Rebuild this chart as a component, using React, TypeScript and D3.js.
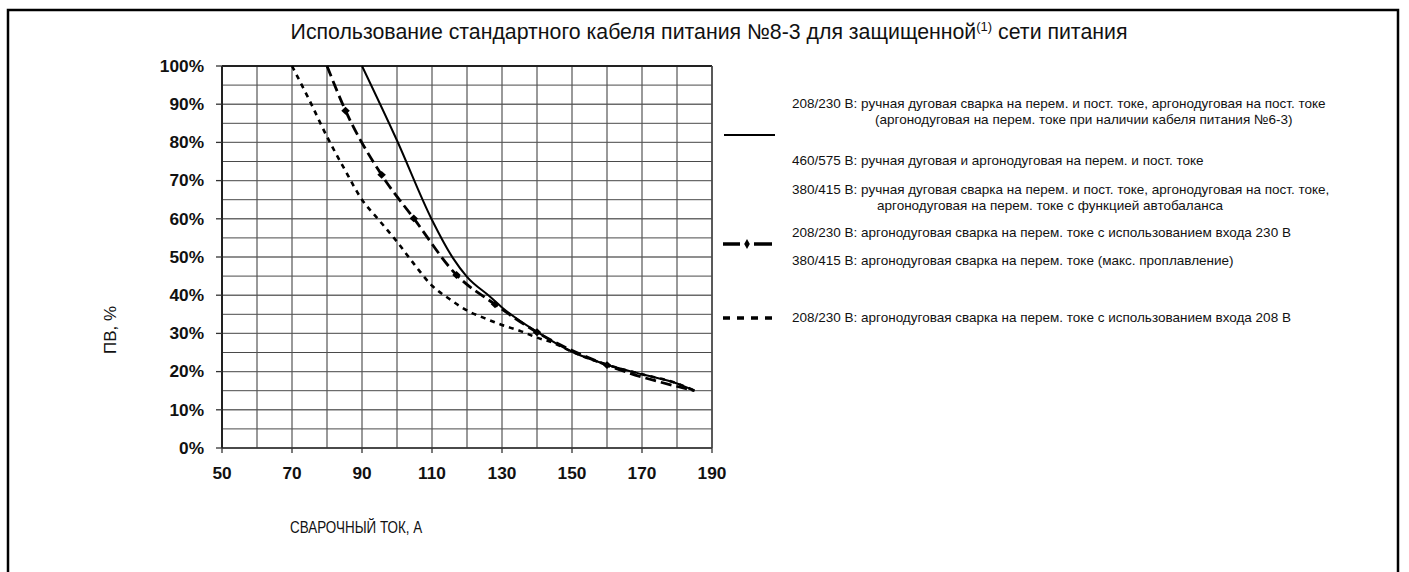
import React from "react";
import * as d3 from "d3";

const TITLE_MAIN = "Использование стандартного кабеля питания №8-3 для защищенной";
const TITLE_SUP = "(1)";
const TITLE_END = " сети питания";
const X_LABEL = "СВАРОЧНЫЙ ТОК, А";
const Y_LABEL = "ПВ, %";

const xTicks = [50, 70, 90, 110, 130, 150, 170, 190];
const yTicks = [0, 10, 20, 30, 40, 50, 60, 70, 80, 90, 100];

// Solid: 208/230 V stick etc.
const solidSeries: [number, number][] = [
  [90, 100], [100, 80.5], [110, 59.7], [116, 49.7], [120, 44.8], [126.6, 39.6],
  [130, 36.8], [140, 30.4], [150, 25.2], [160, 21.8], [170, 19.3], [180, 16.9], [185, 15],
];

// Dash-dot with diamond markers
const dashDotSeries: [number, number][] = [
  [80, 100], [85.3, 88.3], [95.6, 71.5], [104.8, 60.1], [117, 45.3],
  [128, 37.6], [140, 30.3], [160, 21.7], [185, 15],
];

// Dotted: 208/230 V TIG AC 208 input
const dottedSeries: [number, number][] = [
  [70, 100], [75, 91], [80, 81.5], [85, 73], [90, 65], [95, 59.5], [100, 54],
  [105, 48], [110, 42.5], [115, 39], [120, 36], [125, 34], [130, 32.2],
  [135, 30.7], [140, 28.9], [145, 27.4], [150, 25.2], [160, 21.8], [170, 19.3],
  [180, 16.9], [185, 15],
];

const legendLines = [
  { text: "208/230 В: ручная дуговая сварка на перем. и пост. токе, аргонодуговая на пост. токе", x: 792, y: 103 },
  { text: "(аргонодуговая на перем. токе при наличии кабеля питания №6-3)", x: 875, y: 119 },
  { text: "460/575 В: ручная дуговая и аргонодуговая на перем. и пост. токе", x: 792, y: 160 },
  { text: "380/415 В: ручная дуговая сварка на перем. и пост. токе, аргонодуговая на пост. токе,", x: 792, y: 189 },
  { text: "аргонодуговая на перем. токе с функцией автобаланса", x: 877, y: 205 },
  { text: "208/230 В: аргонодуговая сварка на перем. токе с использованием входа 230 В", x: 792, y: 232 },
  { text: "380/415 В: аргонодуговая сварка на перем. токе (макс. проплавление)", x: 792, y: 260 },
  { text: "208/230 В: аргонодуговая сварка на перем. токе с использованием входа 208 В", x: 792, y: 317 },
];

export default function App() {
  const x = d3.scaleLinear().domain([50, 190]).range([222, 712]);
  const y = d3.scaleLinear().domain([0, 100]).range([448, 66]);
  const line = d3
    .line<[number, number]>()
    .x((d) => x(d[0]))
    .y((d) => y(d[1]))
    .curve(d3.curveMonotoneX);

  const vGrid = d3.range(50, 191, 10);
  const hGrid = d3.range(0, 101, 5);
  const diamond = d3.symbol().type(d3.symbolDiamond).size(28)();
  const font = "'Liberation Sans', Arial, sans-serif";
  const narrow = "'Liberation Sans Narrow', 'Arial Narrow', 'Liberation Sans', sans-serif";

  return (
    <svg
      width={1409}
      height={572}
      style={{ position: "absolute", left: 0, top: 0, background: "#fff" }}
    >
      {/* frame */}
      <path d="M8,580 L8,10 L1398,10 L1398,580" fill="none" stroke="#000" strokeWidth={2.5} />

      {/* title */}
      <text x={709} y={39} textAnchor="middle" fontFamily={font} fontSize={21.3} fill="#111">
        {TITLE_MAIN}
        <tspan fontSize={13} dy={-8}>{TITLE_SUP}</tspan>
        <tspan dy={8}>{TITLE_END}</tspan>
      </text>

      {/* grid */}
      {hGrid.map((v) => (
        <line key={"h" + v} x1={x(50)} x2={x(190)} y1={y(v)} y2={y(v)}
          stroke={v % 10 === 0 ? "#6a6a6a" : "#4a4a4a"} strokeWidth={v % 10 === 0 ? 1.4 : 1} />
      ))}
      {vGrid.map((v) => (
        <line key={"v" + v} x1={x(v)} x2={x(v)} y1={y(0)} y2={y(100)} stroke="#555" strokeWidth={1.2} />
      ))}
      {/* axes borders */}
      <line x1={x(50)} x2={x(190)} y1={y(100)} y2={y(100)} stroke="#222" strokeWidth={2} />
      <line x1={x(50)} x2={x(190)} y1={y(0)} y2={y(0)} stroke="#333" strokeWidth={1.5} />
      <line x1={x(50)} x2={x(50)} y1={y(0)} y2={y(100)} stroke="#222" strokeWidth={2} />
      <line x1={x(190)} x2={x(190)} y1={y(0)} y2={y(100)} stroke="#444" strokeWidth={1.5} />

      {/* ticks */}
      {yTicks.map((v) => (
        <g key={"yt" + v}>
          <line x1={x(50) - 6} x2={x(50)} y1={y(v)} y2={y(v)} stroke="#333" strokeWidth={1.3} />
          <text transform={`translate(204,${y(v) + 5.7}) scale(1.08,1)`} textAnchor="end" fontFamily={font} fontWeight="bold" fontSize={16} fill="#111">
            {v + "%"}
          </text>
        </g>
      ))}
      {xTicks.map((v) => (
        <g key={"xt" + v}>
          <line x1={x(v)} x2={x(v)} y1={y(0)} y2={y(0) + 5} stroke="#333" strokeWidth={1.3} />
          <text transform={`translate(${x(v)},479) scale(1.08,1)`} textAnchor="middle" fontFamily={font} fontWeight="bold" fontSize={16} fill="#111">
            {v}
          </text>
        </g>
      ))}

      {/* axis labels */}
      <text transform="translate(290,533) scale(0.84,1)" fontFamily={font} fontSize={16} fill="#111">{X_LABEL}</text>
      <text transform="translate(116,330) rotate(-90)" textAnchor="middle" fontFamily={font} fontSize={17} fill="#111">
        {Y_LABEL}
      </text>

      {/* series */}
      <path d={line(dottedSeries) || ""} fill="none" stroke="#000" strokeWidth={2.6} strokeDasharray="5,5" />
      <path d={line(dashDotSeries) || ""} fill="none" stroke="#000" strokeWidth={2.8} strokeDasharray="11,5" />
      {dashDotSeries.slice(1, -1).map((d, i) => (
        <path key={"m" + i} d={diamond || ""} transform={`translate(${x(d[0])},${y(d[1])}) scale(1.5,0.8)`} fill="#000" />
      ))}
      <path d={line(solidSeries) || ""} fill="none" stroke="#000" strokeWidth={2} />

      {/* legend samples */}
      <line x1={724} x2={775} y1={135} y2={135} stroke="#000" strokeWidth={2} />
      <line x1={723} x2={740} y1={244} y2={244} stroke="#000" strokeWidth={3.5} />
      <line x1={754} x2={772} y1={244} y2={244} stroke="#000" strokeWidth={3.5} />
      <path d={diamond || ""} transform="translate(747,244)" fill="#000" />
      <line x1={723} x2={778} y1={318} y2={318} stroke="#000" strokeWidth={3.5} strokeDasharray="7,7" />

      {legendLines.map((l, i) => (
        <text key={"l" + i} x={l.x} y={l.y + 4.5} fontFamily={narrow} fontSize={13.5} fill="#111">
          {l.text}
        </text>
      ))}
    </svg>
  );
}
